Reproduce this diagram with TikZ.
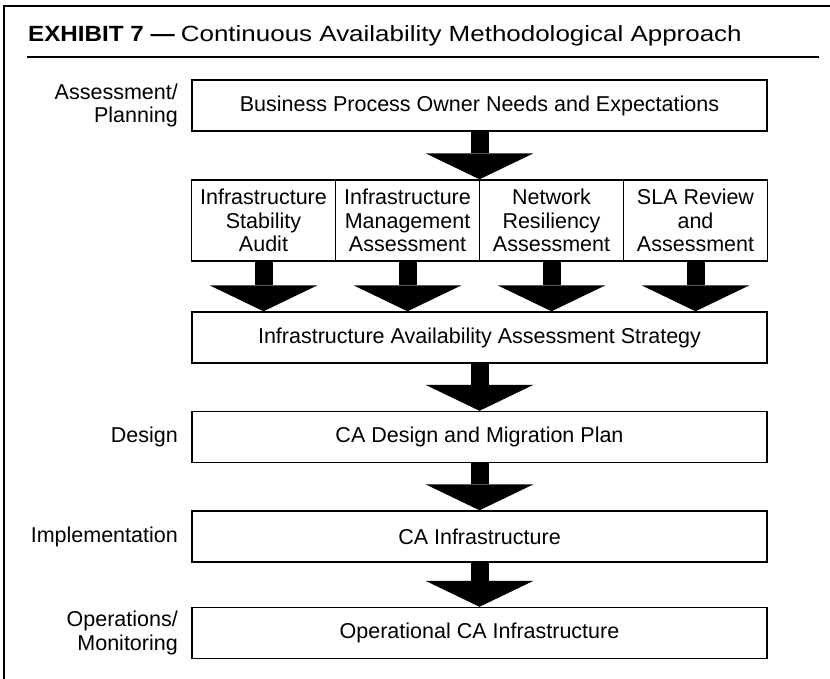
\documentclass[tikz,border=0pt]{standalone}
\usepackage{fontspec}
\setmainfont{Liberation Sans}
\usetikzlibrary{arrows.meta}
\tikzstyle{stage} = [draw, line width=1.4pt, minimum width=575pt, minimum height=51pt,
	inner sep=0pt, font=\fontsize{21.5}{23.5}\selectfont]
\tikzstyle{study} = [draw, line width=1.4pt, minimum width=144pt, minimum height=81pt,
	inner sep=0pt, align=center, font=\fontsize{21.5}{23.5}\selectfont]
\tikzstyle{phase} = [anchor=east, align=right, inner sep=0pt, font=\fontsize{21.5}{23.5}\selectfont]
\tikzstyle{flow} = [line width=18pt, -{Triangle[length=26pt,width=108pt,line width=0pt]}]

\begin{document}
\begin{tikzpicture}[x=1pt,y=-1pt]
			\useasboundingbox (0,0) rectangle (830,679);
			% frame and title
			\draw [line width=1.2pt] (830,6) -- (4,6) -- (4,679);
			\node [anchor=base west, inner sep=0pt, font=\fontsize{22}{26}\selectfont] (title) at (28,42)
				{{\bfseries\addfontfeature{FakeStretch=1.1}EXHIBIT 7 —}
				{\addfontfeature{FakeStretch=1.18}Continuous Availability Methodological Approach}};
			\draw [line width=1.2pt] (27,57) -- (819,57);
			
			\node [stage] (needs)    at (479.5,105.5) {Business Process Owner Needs and Expectations};
			\foreach \name/\x/\txt in {audit/263.5/{Infrastructure\\Stability\\Audit},
				mgmt/407.5/{Infrastructure\\Management\\Assessment},
				net/551.5/{Network\\Resiliency\\Assessment},
				sla/695.5/{SLA Review\\and\\Assessment}}{
				\node [study] (\name) at (\x,220.5) {\txt};
			}
			\node [stage] (strategy) at (479.5,337.5) {Infrastructure Availability Assessment Strategy};
			\node [stage] (design)   at (479.5,437)   {CA Design and Migration Plan};
			\node [stage] (impl)     at (479.5,536.5) {CA Infrastructure};
			\node [stage] (oper)     at (479.5,633)   {Operational CA Infrastructure};
			
			\node [phase] (pAssess) at (178,105.5) {Assessment/\\Planning};
			\node [phase] (pDesign) at (178,437)   {Design};
			\node [phase] (pImpl)   at (178,536.5) {Implementation};
			\node [phase] (pOper)   at (178,633)   {Operations/\\Monitoring};
			
			\draw [flow] (needs.south) -- (needs.south |- mgmt.north);
			\foreach \name in {audit,mgmt,net,sla}{
				\draw [flow] (\name.south) -- (\name.south |- strategy.north);
			}
			\foreach \a/\b in {strategy/design,design/impl,impl/oper}{
				\draw [flow] (\a.south) -- (\b.north);
			}
			
			\end{tikzpicture}
\end{document}
